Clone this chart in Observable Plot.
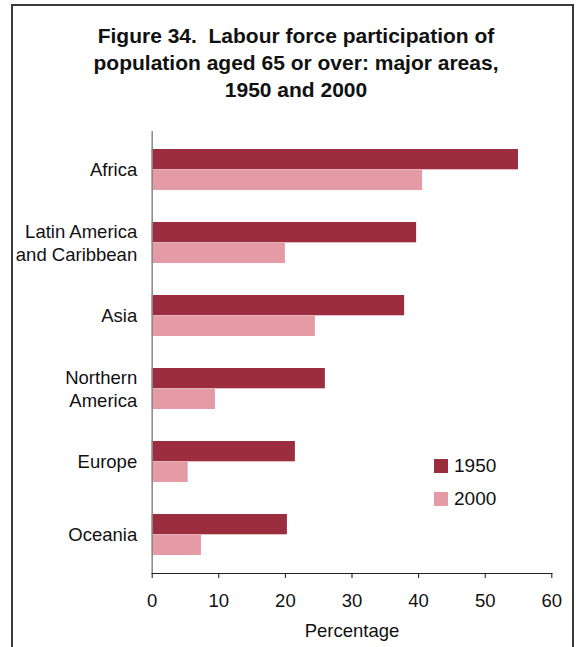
<!DOCTYPE html>
<html>
<head>
<meta charset="utf-8">
<script src="https://cdn.jsdelivr.net/npm/d3@7"></script>
<script src="https://cdn.jsdelivr.net/npm/@observablehq/plot@0.6"></script>
<style>
  html, body { margin: 0; padding: 0; background: #fff; }
  body { width: 576px; height: 647px; position: relative; overflow: hidden; font-family: "Liberation Sans", Arial, sans-serif; }
  #frame { position: absolute; left: 11px; top: 4px; width: 563px; height: 700px; border: 2px solid #3a3a3a; box-sizing: border-box; }
  #title { position: absolute; left: 16px; width: 560px; top: 22px; text-align: center; font-weight: bold; font-size: 21px; line-height: 27px; color: #111; white-space: pre; }
  #chart { position: absolute; left: 0; top: 0; }
  .leg { position: absolute; left: 434px; font-size: 19px; color: #111; display: flex; align-items: center; }
  .sw { width: 14px; height: 14px; margin-right: 6px; }
</style>
</head>
<body>
<div id="frame"></div>
<div id="chart"></div>
<div id="title">Figure 34.  Labour force participation of
population aged 65 or over: major areas,
1950 and 2000</div>
<div class="leg" style="top:455px"><div class="sw" style="background:#9c2d3e"></div>1950</div>
<div class="leg" style="top:488px"><div class="sw" style="background:#e59ba6"></div>2000</div>
<script>
const categories = ["Africa", "Latin America and Caribbean", "Asia", "Northern America", "Europe", "Oceania"];
const tickLabels = ["Africa", "Latin America\nand Caribbean", "Asia", "Northern\nAmerica", "Europe", "Oceania"];
const values1950 = [55.0, 39.7, 37.9, 26.0, 21.5, 20.3];
const values2000 = [40.6, 20.0, 24.5, 9.5, 5.4, 7.4];
const xTicks = [0, 10, 20, 30, 40, 50, 60];

const data1950 = categories.map((c, i) => ({area: c, value: values1950[i]}));
const data2000 = categories.map((c, i) => ({area: c, value: values2000[i]}));
const labelOf = new Map(categories.map((c, i) => [c, tickLabels[i]]));

const half = 20.7;
const chart = Plot.plot({
  width: 576,
  height: 647,
  marginLeft: 151.7,
  marginRight: 24.7,
  marginTop: 131,
  marginBottom: 74,
  style: {fontFamily: "Liberation Sans, Arial, sans-serif", color: "#111", background: "transparent"},
  x: {domain: [0, 60], ticks: xTicks},
  y: {domain: categories, paddingInner: 0.435, paddingOuter: 0.23},
  marks: [
    Plot.barX(data1950, {x: "value", y: "area", fill: "#9c2d3e", insetBottom: half}),
    Plot.barX(data2000, {x: "value", y: "area", fill: "#e59ba6", insetTop: half}),
    Plot.ruleX([0], {stroke: "#888", strokeWidth: 1.5}),
    Plot.frame({anchor: "bottom", stroke: "#222", strokeWidth: 1.2}),
    Plot.axisX({ticks: xTicks, tickSize: 5, tickPadding: 15, fontSize: 18.5, label: "Percentage", labelAnchor: "center", labelArrow: "none", labelOffset: 63, tickFormat: d3.format("d")}),
    Plot.axisY({tickSize: 0, tickPadding: 15, fontSize: 18.5, label: null, tickFormat: d => labelOf.get(d), lineHeight: 1.25, dy: -1})
  ]
});
document.getElementById("chart").appendChild(chart);
</script>
</body>
</html>
